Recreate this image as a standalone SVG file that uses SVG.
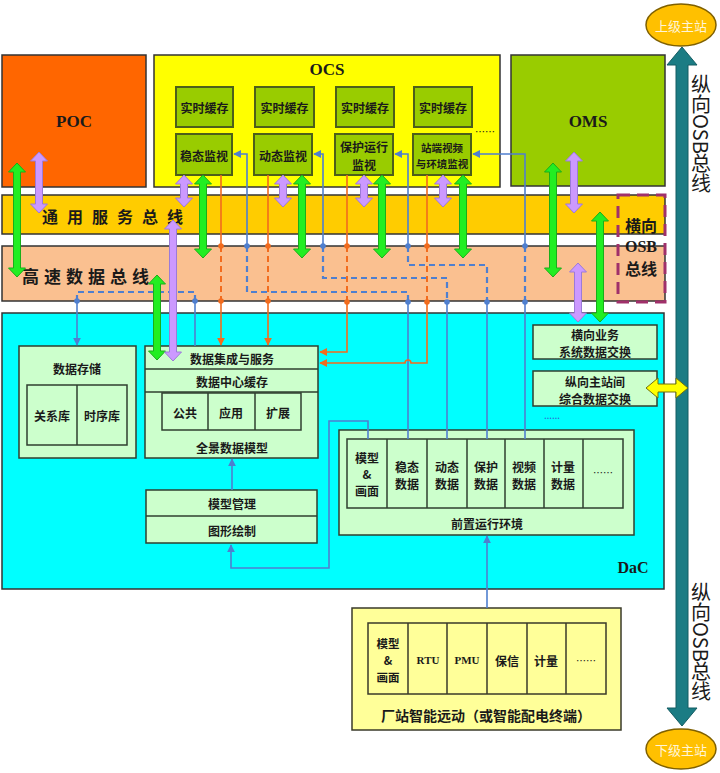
<svg xmlns="http://www.w3.org/2000/svg" width="720" height="773" viewBox="0 0 720 773">
<style>
.t{font-family:"Noto Sans CJK SC","Noto Sans",sans-serif;font-weight:bold;font-size:12px;fill:#1a1a1a;text-anchor:middle;dominant-baseline:central}
.s{font-family:"Liberation Serif","Noto Sans CJK SC",serif;font-weight:bold;fill:#1a1a1a;text-anchor:middle;dominant-baseline:central}
.n{font-weight:normal}
.box{stroke:#333;stroke-width:1.5}
.g{fill:#99CC00;stroke:#4D5F1A;stroke-width:2}
.lg{fill:#CCFFCC;stroke:#2F3F2F;stroke-width:1.5}
.ly{fill:#FFFF99;stroke:#3a3a2a;stroke-width:1.5}
.bl{fill:none;stroke:#4F7FCF;stroke-width:1.6}
.bd{fill:none;stroke:#4F7FCF;stroke-width:2.2;stroke-dasharray:6,4}
.or{fill:none;stroke:#F26B1D;stroke-width:1.6}
.od{fill:none;stroke:#F26B1D;stroke-width:2;stroke-dasharray:6,4}
.gr{fill:#22EE22;stroke:#1AAE1A;stroke-width:1}
.pu{fill:#CC99FF;stroke:#9C7BD8;stroke-width:1}
.db{fill:#4F7FCF}
.do{fill:#F26B1D}
</style>
<defs>
<marker id="ab" viewBox="0 0 10 10" refX="9" refY="5" markerWidth="8" markerHeight="8" markerUnits="userSpaceOnUse" orient="auto"><path d="M0,0 L10,5 L0,10 z" fill="#4F7FCF"/></marker>
<marker id="ao" viewBox="0 0 10 10" refX="9" refY="5" markerWidth="8" markerHeight="8" markerUnits="userSpaceOnUse" orient="auto"><path d="M0,0 L10,5 L0,10 z" fill="#F26B1D"/></marker>
</defs>

<g id="poc"><rect x="2" y="55" width="144" height="132" fill="#FF6600" class="box"/><text class="s" x="74" y="121" style="font-size:17px">POC</text></g>
<g id="ocs"><rect x="154" y="55" width="346" height="132" fill="#FFFF00" class="box"/><text class="s" x="327" y="69" style="font-size:17px">OCS</text>
<text class="t n" x="485" y="131" style="font-size:10px">……</text></g>
<g id="oms"><rect x="511" y="55" width="154" height="131" fill="#99CC00" class="box"/><text class="s" x="588" y="121" style="font-size:17px">OMS</text></g>

<g id="cache1"><rect x="176" y="87" width="57" height="40" class="g"/><text class="t" x="204.5" y="107">实时缓存</text></g>
<g id="cache2"><rect x="255" y="87" width="59" height="40" class="g"/><text class="t" x="284.5" y="107">实时缓存</text></g>
<g id="cache3"><rect x="336" y="87" width="58" height="40" class="g"/><text class="t" x="365" y="107">实时缓存</text></g>
<g id="cache4"><rect x="414" y="87" width="58" height="40" class="g"/><text class="t" x="443" y="107">实时缓存</text></g>
<g id="mon1"><rect x="176" y="134" width="56" height="41" class="g"/><text class="t" x="204" y="155">稳态监视</text></g>
<g id="mon2"><rect x="254" y="134" width="58" height="41" class="g"/><text class="t" x="283" y="155">动态监视</text></g>
<g id="mon3"><rect x="335" y="134" width="58" height="41" class="g"/><text class="t" x="364" y="146">保护运行</text><text class="t" x="364" y="164">监视</text></g>
<g id="mon4"><rect x="413" y="134" width="58" height="41" class="g"/><text class="t" x="442" y="147" style="font-size:10.5px">站端视频</text><text class="t" x="442" y="163" style="font-size:10.5px">与环境监视</text></g>

<g id="bus1"><rect x="2" y="195" width="663" height="39" fill="#FFCC00" class="box"/><text class="t" x="42" y="216" style="font-size:16px;letter-spacing:9px;text-anchor:start">通用服务总线</text></g>
<g id="bus2"><rect x="2" y="246" width="663" height="55" fill="#FAC090" class="box"/><text class="t" x="22" y="275" style="font-size:17px;letter-spacing:5px;text-anchor:start">高速数据总线</text></g>
<g id="hosb"><rect x="618" y="195" width="47" height="107" fill="none" stroke="#A0306A" stroke-width="3" stroke-dasharray="12,7"/><text class="t" x="641" y="225" style="font-size:16px">横向</text><text class="s" x="641" y="246" style="font-size:16px">OSB</text><text class="t" x="641" y="268" style="font-size:16px">总线</text></g>

<g id="dac"><rect x="2" y="313" width="662" height="276" fill="#00FFFF" class="box"/><text class="s" x="633" y="567" style="font-size:16px">DaC</text></g>

<g id="store"><rect x="19" y="346" width="117" height="112" class="lg"/><text class="t" x="77" y="368">数据存储</text>
<rect x="27" y="385" width="100" height="60" class="lg"/><line x1="77" y1="385" x2="77" y2="445" stroke="#2F3F2F" stroke-width="1.5"/>
<text class="t" x="52" y="415">关系库</text><text class="t" x="102" y="415">时序库</text></g>

<g id="integ"><rect x="145" y="346" width="173" height="112" class="lg"/>
<line x1="145" y1="369" x2="318" y2="369" stroke="#2F3F2F" stroke-width="1.5"/>
<line x1="145" y1="392" x2="318" y2="392" stroke="#2F3F2F" stroke-width="1.5"/>
<text class="t" x="232" y="358">数据集成与服务</text><text class="t" x="232" y="381">数据中心缓存</text>
<rect x="162" y="393" width="139" height="37" class="lg"/>
<line x1="208" y1="393" x2="208" y2="430" stroke="#2F3F2F" stroke-width="1.5"/><line x1="255" y1="393" x2="255" y2="430" stroke="#2F3F2F" stroke-width="1.5"/>
<text class="t" x="185" y="412">公共</text><text class="t" x="231" y="412">应用</text><text class="t" x="278" y="412">扩展</text>
<text class="t" x="232" y="447">全景数据模型</text></g>

<g id="model"><rect x="146" y="490" width="171" height="53" class="lg"/><line x1="146" y1="516" x2="317" y2="516" stroke="#2F3F2F" stroke-width="1.5"/>
<text class="t" x="232" y="503">模型管理</text><text class="t" x="232" y="530">图形绘制</text></g>

<g id="hx"><rect x="533" y="325" width="124" height="34" class="lg"/><text class="t" x="595" y="334">横向业务</text><text class="t" x="595" y="351">系统数据交换</text></g>
<g id="zx"><rect x="533" y="371" width="124" height="35" class="lg"/><text class="t" x="595" y="381">纵向主站间</text><text class="t" x="595" y="398">综合数据交换</text></g>
<text x="552" y="419" font-family="Noto Sans" font-size="10" fill="#3060D0" text-anchor="middle">……</text>

<g id="front"><rect x="339" y="430" width="295" height="105" class="lg"/>
<rect x="347" y="439" width="276" height="69" class="lg"/>
<g stroke="#2F3F2F" stroke-width="1.5"><line x1="387" y1="439" x2="387" y2="508"/><line x1="427" y1="439" x2="427" y2="508"/><line x1="467" y1="439" x2="467" y2="508"/><line x1="505" y1="439" x2="505" y2="508"/><line x1="544" y1="439" x2="544" y2="508"/><line x1="583" y1="439" x2="583" y2="508"/></g>
<text class="t" x="367" y="457">模型</text><text class="t" x="367" y="473">&amp;</text><text class="t" x="367" y="490">画面</text>
<text class="t" x="407" y="466">稳态</text><text class="t" x="407" y="483">数据</text>
<text class="t" x="447" y="466">动态</text><text class="t" x="447" y="483">数据</text>
<text class="t" x="486" y="466">保护</text><text class="t" x="486" y="483">数据</text>
<text class="t" x="524" y="466">视频</text><text class="t" x="524" y="483">数据</text>
<text class="t" x="563" y="466">计量</text><text class="t" x="563" y="483">数据</text>
<text class="t n" x="603" y="472" style="font-size:10px">……</text>
<text class="t" x="487" y="523">前置运行环境</text></g>

<g id="rtu"><rect x="352" y="608" width="269" height="122" class="ly"/>
<rect x="368" y="623" width="238" height="71" class="ly"/>
<g stroke="#3a3a2a" stroke-width="1.5"><line x1="408" y1="623" x2="408" y2="694"/><line x1="447" y1="623" x2="447" y2="694"/><line x1="487" y1="623" x2="487" y2="694"/><line x1="527" y1="623" x2="527" y2="694"/><line x1="566" y1="623" x2="566" y2="694"/></g>
<text class="t" x="388" y="643" style="font-size:11.5px">模型</text><text class="t" x="388" y="660" style="font-size:11.5px">&amp;</text><text class="t" x="388" y="677" style="font-size:11.5px">画面</text>
<text class="s" x="428" y="660" style="font-size:11px">RTU</text><text class="s" x="467" y="660" style="font-size:11px">PMU</text>
<text class="t" x="507" y="660">保信</text><text class="t" x="546" y="660">计量</text>
<text class="t n" x="586" y="660" style="font-size:10px">……</text>
<text class="t" x="486" y="715" style="font-size:14px">厂站智能远动（或智能配电终端）</text></g>

<g id="upper"><ellipse cx="681" cy="25" rx="35" ry="21" fill="#FFC000" stroke="#7F6000" stroke-width="1.5"/><text class="t n" x="681" y="25" style="font-size:13px;fill:#FFF5D8">上级主站</text></g>
<g id="lower"><ellipse cx="681" cy="749" rx="35" ry="20" fill="#FFC000" stroke="#7F6000" stroke-width="1.5"/><text class="t n" x="681" y="749" style="font-size:13px;fill:#FFF5D8">下级主站</text></g>

<g id="connectors">
<path class="bl" d="M247,246 L247,154 L234,154" marker-end="url(#ab)"/>
<path class="bd" d="M247,246 L247,292 L408,292 L408,302"/>
<path class="bl" d="M408,302 L408,439"/>
<path class="bl" d="M323,246 L323,154 L314,154" marker-end="url(#ab)"/>
<path class="bd" d="M323,246 L323,278 L447,278 L447,302"/>
<path class="bl" d="M447,302 L447,439"/>
<path class="bl" d="M408,246 L408,154 L395,154" marker-end="url(#ab)"/>
<path class="bd" d="M408,246 L408,265 L487,265 L487,302"/>
<path class="bl" d="M487,302 L487,439"/>
<path class="bl" d="M525,246 L525,154 L473,154" marker-end="url(#ab)"/>
<path class="bd" d="M525,246 L525,302"/>
<path class="bl" d="M525,302 L525,439"/>
<path class="bd" d="M77,301 L77,292 L195,292 L195,301"/>
<path class="bl" d="M77,301 L77,345" marker-end="url(#ab)"/>
<path class="bl" d="M195,301 L195,346"/>
<path class="bl" d="M368,439 L368,421 L329,421 L329,568 L231,568 L231,545" marker-end="url(#ab)"/>
<path class="bl" d="M487,608 L487,536" marker-end="url(#ab)"/>
<path class="bl" d="M232,490 L232,459" marker-end="url(#ab)"/>

<path class="or" d="M221,175 L221,246"/><path class="od" d="M221,246 L221,301"/><path class="or" d="M221,301 L221,345" marker-end="url(#ao)"/>
<path class="or" d="M268,175 L268,246"/><path class="od" d="M268,246 L268,301"/><path class="or" d="M268,301 L268,345" marker-end="url(#ao)"/>
<path class="or" d="M347,175 L347,246"/><path class="od" d="M347,246 L347,302"/><path class="or" d="M347,302 L347,352 L320,352" marker-end="url(#ao)"/>
<path class="or" d="M427,175 L427,246"/><path class="od" d="M427,246 L427,302"/><path class="or" d="M427,302 L427,363 L411,363 A3,3 0 0 0 405,363 L320,363" marker-end="url(#ao)"/>

<g class="db"><circle cx="247" cy="246" r="2.8"/><circle cx="408" cy="302" r="2.8"/><circle cx="323" cy="246" r="2.8"/><circle cx="447" cy="302" r="2.8"/><circle cx="408" cy="246" r="2.8"/><circle cx="487" cy="302" r="2.8"/><circle cx="525" cy="246" r="2.8"/><circle cx="525" cy="302" r="2.8"/><circle cx="77" cy="301" r="2.8"/><circle cx="195" cy="301" r="2.8"/></g>
<g class="do"><circle cx="221" cy="246" r="2.8"/><circle cx="221" cy="301" r="2.8"/><circle cx="268" cy="246" r="2.8"/><circle cx="268" cy="301" r="2.8"/><circle cx="347" cy="246" r="2.8"/><circle cx="347" cy="302" r="2.8"/><circle cx="427" cy="246" r="2.8"/><circle cx="427" cy="302" r="2.8"/></g>

<path class="gr" d="M17,163 l8.5,9 h-5 v96 h5 l-8.5,9 l-8.5,-9 h5 v-96 h-5 z"/>
<path class="pu" d="M39,152 l8.5,9 h-5 v43 h5 l-8.5,9 l-8.5,-9 h5 v-43 h-5 z"/>
<path class="pu" d="M184,175 l8.5,9 h-5 v14 h5 l-8.5,9 l-8.5,-9 h5 v-14 h-5 z"/>
<path class="gr" d="M203,175 l8.5,9 h-5 v65 h5 l-8.5,9 l-8.5,-9 h5 v-65 h-5 z"/>
<path class="pu" d="M283,175 l8.5,9 h-5 v14 h5 l-8.5,9 l-8.5,-9 h5 v-14 h-5 z"/>
<path class="gr" d="M302,175 l8.5,9 h-5 v65 h5 l-8.5,9 l-8.5,-9 h5 v-65 h-5 z"/>
<path class="pu" d="M364,175 l8.5,9 h-5 v14 h5 l-8.5,9 l-8.5,-9 h5 v-14 h-5 z"/>
<path class="gr" d="M382,175 l8.5,9 h-5 v65 h5 l-8.5,9 l-8.5,-9 h5 v-65 h-5 z"/>
<path class="pu" d="M443,175 l8.5,9 h-5 v14 h5 l-8.5,9 l-8.5,-9 h5 v-14 h-5 z"/>
<path class="gr" d="M463,175 l8.5,9 h-5 v65 h5 l-8.5,9 l-8.5,-9 h5 v-65 h-5 z"/>
<path class="gr" d="M553,163 l8.5,9 h-5 v96 h5 l-8.5,9 l-8.5,-9 h5 v-96 h-5 z"/>
<path class="pu" d="M574,152 l8.5,9 h-5 v43 h5 l-8.5,9 l-8.5,-9 h5 v-43 h-5 z"/>
<path class="gr" d="M600,212 l8.5,9 h-5 v92 h5 l-8.5,9 l-8.5,-9 h5 v-92 h-5 z"/>
<path class="pu" d="M578,263 l8.5,9 h-5 v41 h5 l-8.5,9 l-8.5,-9 h5 v-41 h-5 z"/>
<path class="gr" d="M157,275 l8.5,9 h-5 v67 h5 l-8.5,9 l-8.5,-9 h5 v-67 h-5 z"/>
<path class="pu" d="M173,220 l8.5,9 h-5 v123 h5 l-8.5,9 l-8.5,-9 h5 v-123 h-5 z"/>

<path d="M682,47 l15,18 h-9 v643 h9 l-15,18 l-15,-18 h9 v-643 h-9 z" fill="#1B7C84" stroke="#145C62" stroke-width="1"/>
<path d="M646,388 l12,-10 v6 h18 v-6 l12,10 l-12,10 v-6 h-18 v6 z" fill="#FFFF00" stroke="#6F6F10" stroke-width="1"/>
</g>

<text x="701" y="74" font-family="Noto Sans CJK SC, Liberation Serif, sans-serif" font-size="20" fill="#1a1a1a" style="writing-mode:vertical-rl">纵向OSB总线</text>
<text x="701" y="582" font-family="Noto Sans CJK SC, Liberation Serif, sans-serif" font-size="20" fill="#1a1a1a" style="writing-mode:vertical-rl">纵向OSB总线</text>
</svg>
